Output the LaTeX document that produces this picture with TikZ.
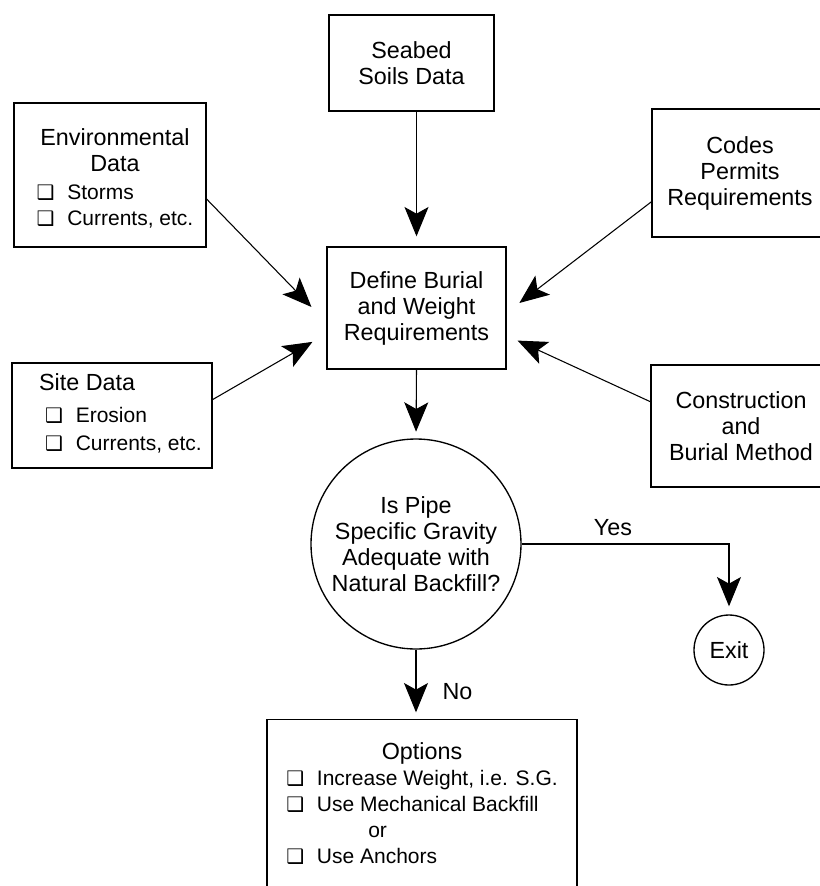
\documentclass[tikz,border=0pt]{standalone}
\usepackage{fontspec}
\setmainfont{Liberation Sans}
\newfontfamily\boxglyph{DejaVu Sans}
\usetikzlibrary{arrows.meta}

\newcommand{\itemfont}{\fontsize{15.75}{19.5}\selectfont}
\newcommand{\chkbox}{\makebox[23pt][l]{\boxglyph\fontsize{15}{15}\selectfont ❑}}

\begin{document}
\begin{tikzpicture}[x=0.75pt, y=-0.75pt,
    every node/.style={font=\fontsize{17.5}{19.5}\selectfont, inner sep=0pt},
    box/.style={draw, line width=1pt, align=center},
    panel/.style={draw, line width=1pt},
    flow/.style={line width=0.8pt, -{Stealth[length=22pt, width=18pt, inset=5pt]}}]
        \useasboundingbox (0,0) rectangle (820,886);
        \clip (0,0) rectangle (820,886);
        % Input boxes (top and left)
        \node[box, minimum width=123.75pt, minimum height=72pt] (seabed) at (411.5,63) {Seabed\\Soils Data};
        \node[panel, minimum width=144pt, minimum height=108pt] (env) at (110,175) {%
            \begin{tabular}{@{\hspace{7.5pt}}l@{}}
                \multicolumn{1}{@{\hspace{7.5pt}}c@{}}{\rule{0pt}{22pt}Environmental}\\
                \multicolumn{1}{@{\hspace{7.5pt}}c@{}}{Data}\\[1.5pt]
                \itemfont\chkbox Storms\\
                \itemfont\chkbox Currents, etc.
            \end{tabular}};
        \node[panel, minimum width=150pt, minimum height=78.75pt] (site) at (112,415.5) {%
            \begin{tabular}{@{\hspace{12.75pt}}l@{}}
                Site Data\\[4.5pt]
                \itemfont\hspace{4.5pt}\chkbox Erosion\\[1.5pt]
                \itemfont\hspace{4.5pt}\chkbox Currents, etc.
            \end{tabular}};
        % Input boxes (right)
        \node[box, minimum width=132pt, minimum height=96pt] (codes) at (740,173) {Codes\\Permits\\Requirements};
        \node[box, minimum width=135pt, minimum height=91.5pt] (build) at (741,426) {Construction\\and\\Burial Method};
        % Requirements, decision and outcomes
        \node[box, minimum width=134.25pt, minimum height=91.5pt] (define) at (416.5,308) {Define Burial\\and Weight\\Requirements};
        \node[box, circle, minimum size=157.5pt] (check) at (416,544) {Is Pipe\\Specific Gravity\\Adequate with\\Natural Backfill?};
        \node[box, circle, minimum size=52.5pt] (exit) at (729,650) {Exit};
        \node[panel, anchor=north, minimum width=232.5pt, inner ysep=16.5pt] (options) at (422,719) {%
            \begin{tabular}{@{}l@{}}
                \multicolumn{1}{@{}c@{}}{Options\hspace{15pt}}\\
                \itemfont\chkbox Increase Weight, i.e. S.G.\\
                \itemfont\chkbox Use Mechanical Backfill\\
                \itemfont\hspace{61.5pt}or\\
                \itemfont\chkbox Use Anchors\\[8pt]
            \end{tabular}};
        % Inputs into the requirements box
        \draw[flow, shorten >=7.5pt] (define.north |- seabed.south) -- (define.north);
        \draw[flow, shorten >=16pt] (env.-14) -- (define.189);
        \draw[flow, shorten >=12pt] (site.9) -- (define.196);
        \draw[flow, shorten >=12pt] (codes.198) -- (define.-3);
        \draw[flow, shorten >=9pt] (build.165) -- (define.-17);
        % Decision arrows and labels
        \draw[flow, shorten >=5pt] (define.south) -- (check.north);
        \draw[flow, shorten >=6pt] (check.east) -| node[pos=0.22, above=6pt] {Yes} (exit.north);
        \draw[flow, shorten >=5pt] (check.south) -- node[pos=0.6, right=19.5pt] {No} (check.south |- options.north);
    \end{tikzpicture}
\end{document}
